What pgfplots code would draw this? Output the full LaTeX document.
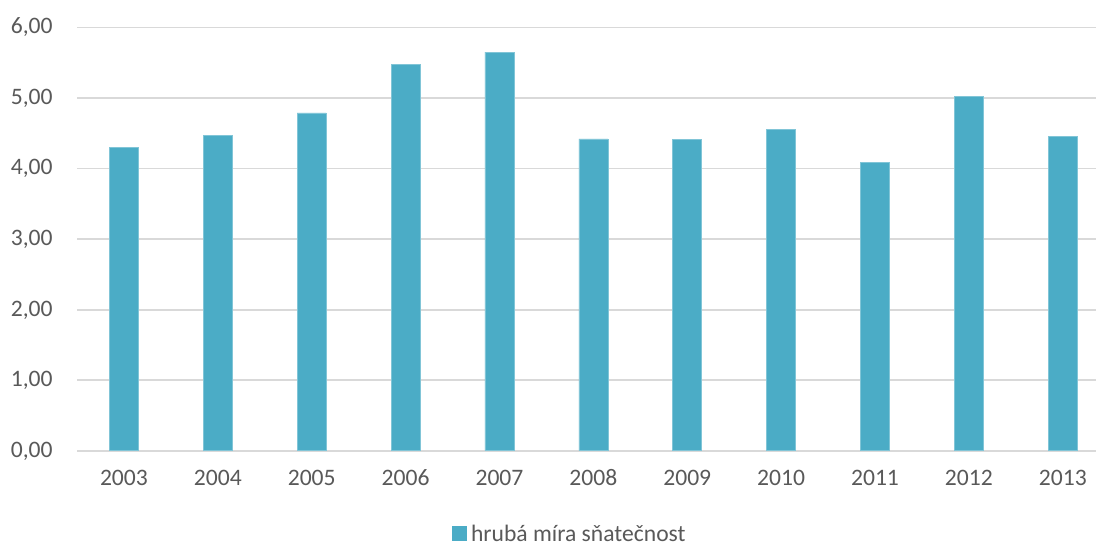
\documentclass[border=0pt]{standalone}
\usepackage{fontspec}
\setmainfont{Carlito}
\usepackage{pgfplots}
\pgfplotsset{compat=1.18}
\definecolor{barcol}{HTML}{4BACC6}
\definecolor{gridgray}{HTML}{D9D9D9}
\definecolor{labelgray}{HTML}{595959}
\begin{document}
\begin{tikzpicture}
\begin{axis}[
  scale only axis,
  width=509.5pt, height=211.6pt,
  xmin=-0.5, xmax=10.354,
  ymin=0, ymax=6,
  axis line style={draw=none},
  major tick length=0pt,
  ymajorgrids,
  grid style={draw=gridgray, line width=0.9pt},
  xtick={0,...,10},
  xticklabels={2003,2004,2005,2006,2007,2008,2009,2010,2011,2012,2013},
  ytick={0,...,6},
  yticklabels={{0,00},{1,00},{2,00},{3,00},{4,00},{5,00},{6,00}},
  tick label style={font=\fontsize{11.8}{14}\selectfont, text=labelgray},
  xticklabel style={anchor=north, inner sep=0pt, text height=0.63em, text depth=0pt, yshift=-11.1pt},
  yticklabel style={anchor=base east, inner sep=0pt, xshift=-12pt, yshift=-0.32em},
  ybar, bar width=14.5pt,
  legend style={at={(axis description cs:0.4848,-0.195)}, anchor=center,
    draw=none, fill=none, font=\fontsize{11.8}{14}\selectfont, text=labelgray,
    inner sep=0pt, nodes={text depth=0pt}},
  legend image code/.code={\fill[barcol] (0pt,-3.5pt) rectangle (7pt,3.5pt);},
]
\addplot[fill=barcol, draw=barcol!70!white, line width=0.3pt]
  coordinates {(0,4.30) (1,4.47) (2,4.79) (3,5.48) (4,5.65) (5,4.42)
               (6,4.41) (7,4.55) (8,4.09) (9,5.02) (10,4.46)};
\addlegendentry{hrubá míra sňatečnost}
\coordinate (sw) at (rel axis cs:0,0);
\coordinate (ne) at (rel axis cs:1,1);
\end{axis}
\pgfresetboundingbox
\path[use as bounding box] ([xshift=-38.5pt,yshift=-46.65pt]sw) rectangle ([yshift=13.75pt]ne);
\end{tikzpicture}
\end{document}
